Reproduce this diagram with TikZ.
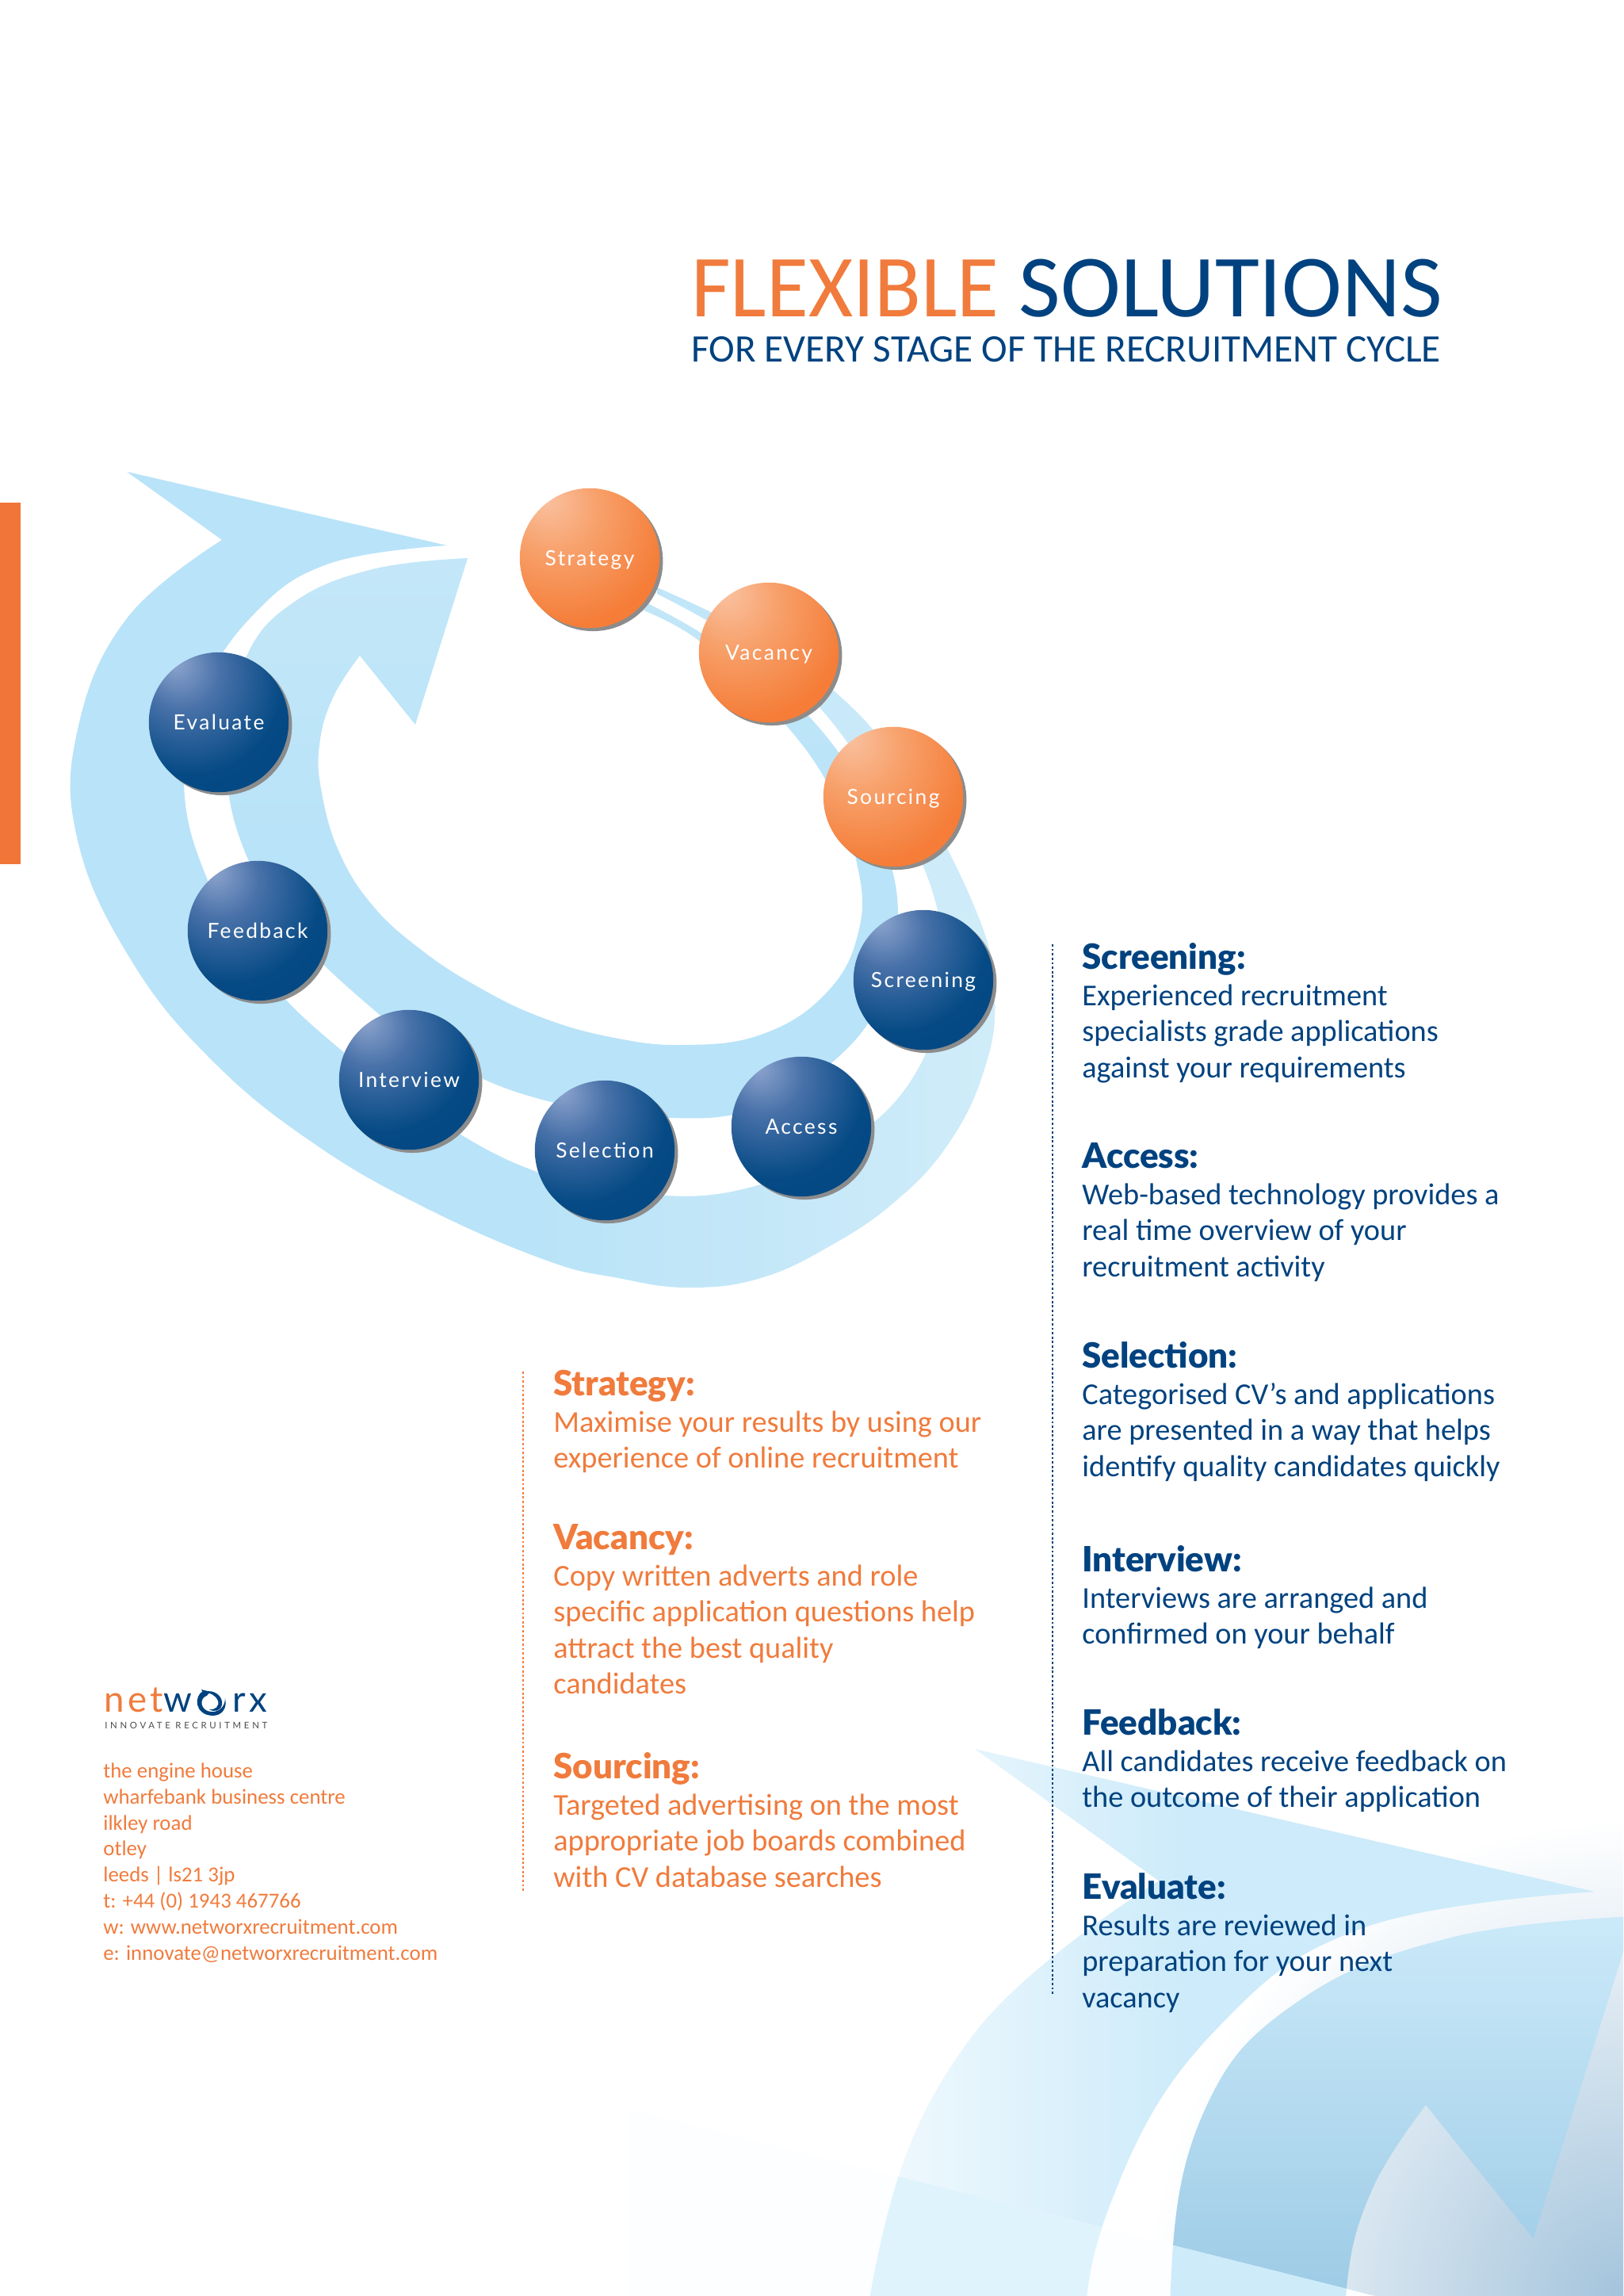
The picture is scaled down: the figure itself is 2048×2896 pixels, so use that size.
\documentclass[tikz,border=0pt]{standalone}
\usepackage{fontspec}
\setmainfont{Carlito}
\newfontfamily\ballfont[LetterSpace=9]{Lato}
\newfontfamily\logofont[LetterSpace=10]{Lato}
\newfontfamily\tagfont[LetterSpace=32]{Lato}
\newfontfamily\headfont{Lato Black}
\usetikzlibrary{shadows}
\pgfdeclareradialshading{orangeshade}{\pgfpoint{-16bp}{22bp}}{rgb(0bp)=(0.98,0.76,0.63);rgb(16bp)=(0.97,0.63,0.42);rgb(36bp)=(0.96,0.49,0.22);rgb(80bp)=(0.95,0.47,0.20)}
\pgfdeclareradialshading{blueshade}{\pgfpoint{-16bp}{22bp}}{rgb(0bp)=(0.56,0.65,0.81);rgb(14bp)=(0.28,0.44,0.66);rgb(32bp)=(0.02,0.29,0.52);rgb(80bp)=(0,0.25,0.49)}
\tikzset{
	ball/.style={circle,minimum size=100.4pt,inner sep=0pt,text=white,
		text height=12pt,text depth=1pt,
		font=\ballfont\fontsize{15}{15}\selectfont,
		general shadow={shadow xshift=2.4pt,shadow yshift=-2.2pt,fill=black!45}},
	orangeball/.style={ball,shading=orangeshade},
	blueball/.style={ball,shading=blueshade},
	textblock/.style={anchor=north west,inner sep=0pt,align=left,
		font=\fontsize{21.8}{25.9}\selectfont},
	orangeblock/.style={textblock,text=Orange},
	blueblock/.style={textblock,text=Blue},
	logotext/.style={anchor=base west,inner sep=0pt,font=\logofont\fontsize{26}{26}\selectfont}
}
\def\hd#1{\rule{0pt}{20pt}{\headfont\fontsize{25}{25.9}\selectfont #1}}
%% The two bands of the arrow, in pixels of the page
\def\outerband{plot[smooth,tension=0.7] coordinates {(280,681) (160,780) (98,920) (98,1060) (166,1212)
	(270,1340) (400,1445) (540,1525) (690,1590) (780,1612) (868,1624) (960,1612) (1050,1570)
	(1130,1515) (1195,1445) (1240,1355) (1255,1260) (1232,1150) (1140,975) (1053,872) (940,795) (829,741)}
	-- plot[smooth,tension=0.7] coordinates {(829,749) (940,812) (1032,890) (1110,1000) (1173,1114)
	(1187,1226) (1160,1345) (1070,1440) (937,1500) (800,1505) (680,1479) (560,1418)
	(431,1325) (330,1225) (262,1110) (232,988) (255,875) (320,775) (415,711) (564,688)}
	-- (160,595) -- cycle}
\def\innerband{plot[smooth,tension=0.7] coordinates {(590,704) (470,718) (370,760) (310,830) (288,940)
	(300,1050) (360,1160) (450,1255) (560,1335) (688,1388) (846,1410) (960,1395)
	(1061,1330) (1115,1250) (1133,1150) (1110,1050) (1061,953) (970,855) (879,795) (817,761)}
	-- plot[smooth,tension=0.7] coordinates {(812,770) (879,806) (960,880) (1040,981) (1082,1093)
	(1082,1180) (1040,1255) (960,1305) (862,1318) (770,1308) (680,1282) (600,1243)
	(530,1197) (470,1142) (428,1075) (406,1000) (403,940) (420,880) (454,827)}
	-- (524,914) -- cycle}
\begin{document}
\begin{tikzpicture}[x=0.02cm,y=-0.02cm]
\definecolor{Orange}{HTML}{F07B3C}
\definecolor{Blue}{HTML}{00427F}
\definecolor{Sky}{HTML}{B9E3F8}
\definecolor{SkyPale}{HTML}{D0ECF9}
\definecolor{Haze}{HTML}{A4C4DC}
\useasboundingbox (0,0) rectangle (2048,2896);
%% Arrow in the corner, bigger and cut by the page
\begin{scope}
\clip (0,0) rectangle (2048,2896);
\shade[inner color=Haze,outer color=white] (2048,2896) circle[radius=600];
\begin{scope}
\clip[shift={(920,1054)},scale=1.936] \outerband;
\shade[left color=white!85!Sky,right color=Sky!72!white] (1060,2200) rectangle (1500,2896);
\fill[Sky!72!white] (1500,2200) rectangle (2048,2896);
\end{scope}
\begin{scope}
\clip[shift={(920,1054)},scale=1.936] \innerband;
\shade[top color=Sky!72!white,bottom color=Sky!85!Blue] (1400,2400) rectangle (2048,2896);
\end{scope}
%% Pale wedge along the bottom
\fill[white!96!Sky] (794,2660) -- (1735,2896) -- (794,2896) -- cycle;
\begin{scope}
\clip (794,2660) -- (1735,2896) -- (794,2896) -- cycle;
\fill[shift={(920,1054)},scale=1.936,white!55!Sky] \outerband;
\fill[shift={(920,1054)},scale=1.936,white!30!Sky] \innerband;
\end{scope}
\end{scope}
%% Bar on the left edge
\fill[Orange!95!red] (0,634) rectangle (26,1090);
%% Big arrow
\shade[left color=Sky,right color=SkyPale,middle color=Sky] \outerband;
\shade[top color=Sky!55!SkyPale,bottom color=Sky,middle color=Sky] \innerband;
%% Balls
\node[orangeball] (strategy) at (744,704) {Strategy};
\node[orangeball] (vacancy) at (970,823) {Vacancy};
\node[orangeball] (sourcing) at (1127,1005) {Sourcing};
\node[blueball] (screening) at (1165,1236) {Screening};
\node[blueball] (access) at (1011,1421) {Access};
\node[blueball] (selection) at (763,1451) {Selection};
\node[blueball] (interview) at (516,1362) {Interview};
\node[blueball] (feedback) at (325,1174) {Feedback};
\node[blueball] (evaluate) at (276,911) {Evaluate};
%% Title
\node[anchor=base west,inner sep=0pt,font=\fontsize{63.6}{64}\selectfont] (title) at (872,399)
	{\textcolor{Orange}{\scalebox{0.967}[1]{FLEXIBLE}} \textcolor{Blue}{\scalebox{1.024}[1]{SOLUTIONS}}};
\node[anchor=base west,inner sep=0pt,text=Blue,font=\fontsize{28}{28}\selectfont] (subtitle) at (872,456)
	{FOR EVERY STAGE OF THE RECRUITMENT CYCLE};
%% Dotted lines
\draw[Orange,line width=1.5pt,dash pattern=on 1.6pt off 1.6pt] (660,1730) -- (660,2386);
\draw[Blue,line width=1.5pt,dash pattern=on 1.6pt off 1.6pt] (1328,1191) -- (1328,2517);
%% Orange column
\node[orangeblock] (strategytext) at (698,1725) {\hd{Strategy:}\\Maximise your results by using our\\experience of online recruitment};
\node[orangeblock] (vacancytext) at (698,1919) {\hd{Vacancy:}\\Copy written adverts and role\\specific application questions help\\attract the best quality\\candidates};
\node[orangeblock] (sourcingtext) at (698,2208) {\hd{Sourcing:}\\Targeted advertising on the most\\appropriate job boards combined\\with CV database searches};
%% Blue column
\node[blueblock] (screeningtext) at (1365,1187) {\hd{Screening:}\\Experienced recruitment\\specialists grade applications\\against your requirements};
\node[blueblock] (accesstext) at (1365,1438) {\hd{Access:}\\Web-based technology provides a\\real time overview of your\\recruitment activity};
\node[blueblock] (selectiontext) at (1365,1690) {\hd{Selection:}\\Categorised CV’s and applications\\are presented in a way that helps\\identify quality candidates quickly};
\node[blueblock] (interviewtext) at (1365,1947) {\hd{Interview:}\\Interviews are arranged and\\confirmed on your behalf};
\node[blueblock] (feedbacktext) at (1365,2153) {\hd{Feedback:}\\All candidates receive feedback on\\the outcome of their application};
\node[blueblock] (evaluatetext) at (1365,2360) {\hd{Evaluate:}\\Results are reviewed in\\preparation for your next\\vacancy};
%% Logo
\node[logotext] (logonet) at (131,2159) {\textcolor{Orange}{net}\textcolor{Blue}{w}};
\node[logotext,text=Blue] (logorx) at (293,2159) {rx};
\fill[Blue] (256,2133) .. controls (244,2140) and (246,2163) .. (268,2164)
	.. controls (280,2164) and (287,2155) .. (284,2142)
	.. controls (284,2153) and (276,2160) .. (266,2159)
	.. controls (253,2158) and (250,2142) .. (262,2138) -- cycle;
\fill[Blue] (258,2134) .. controls (270,2130) and (282,2140) .. (280,2150)
	.. controls (279,2158) and (270,2160) .. (264,2156)
	.. controls (272,2157) and (277,2152) .. (275,2145)
	.. controls (273,2139) and (265,2135) .. (258,2134) -- cycle;
\fill[Blue] (254,2131) -- (266,2134) -- (259,2140) -- cycle;
\node[anchor=base west,inner sep=0pt,text=black!70,font=\tagfont\fontsize{6.5}{6.5}\selectfont] (logotag) at (132,2180) {INNOVATE RECRUITMENT};
%% Address
\node[anchor=north west,inner sep=0pt,align=left,text=Orange,font=\fontsize{15.3}{18.7}\selectfont] (address) at (130,2220)
	{\rule{0pt}{12.5pt}the engine house\\wharfebank business centre\\ilkley road\\otley\\leeds | ls21 3jp\\t: +44 (0) 1943 467766\\w: www.networxrecruitment.com\\e: innovate@networxrecruitment.com};
\end{tikzpicture}
\end{document}
